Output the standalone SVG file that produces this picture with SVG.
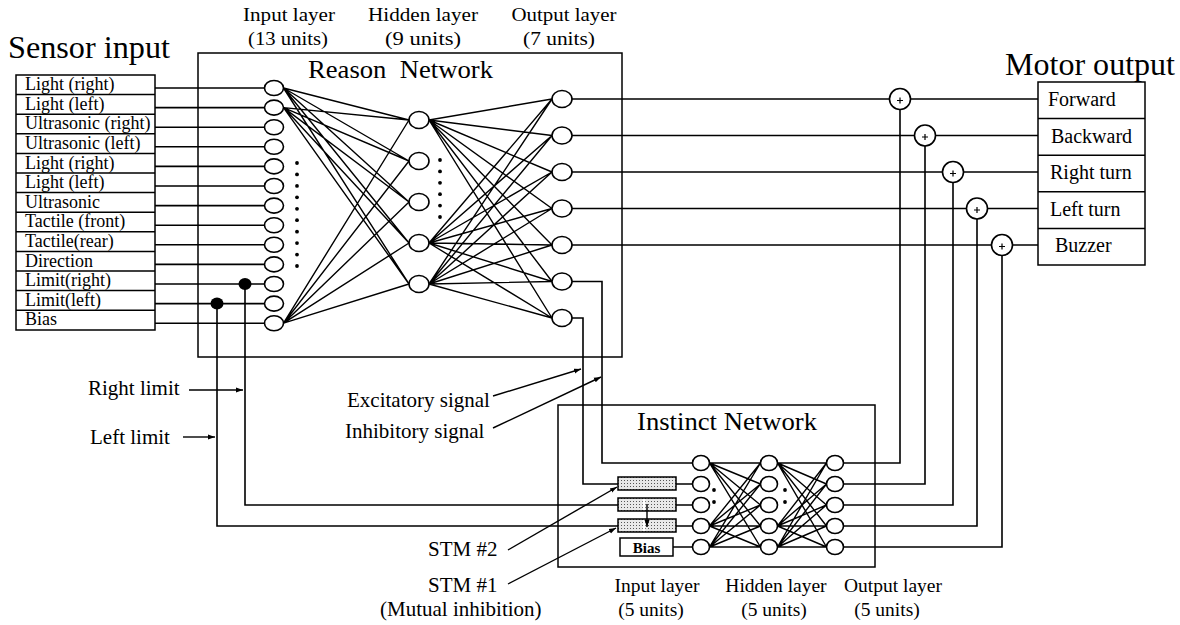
<svg xmlns="http://www.w3.org/2000/svg" width="1180" height="625" viewBox="0 0 1180 625">
<style>
text{font-family:"Liberation Serif","Times New Roman",serif;fill:#000}
.ln{stroke:#000;stroke-width:1.6;fill:none}
.th{stroke:#000;stroke-width:1.4;fill:none}
.nd{stroke:#000;stroke-width:1.6;fill:#fff}
.bx{stroke:#000;stroke-width:1.5;fill:none}
.dot{fill:#000}
.t18{font-size:18px}
.t20{font-size:20px}
.t21{font-size:21px}
.hd{font-size:19.5px}
.big{font-size:31px}
.net{font-size:26px}
.mid{text-anchor:middle}
.stm{fill:url(#stip);stroke:#000;stroke-width:1.5}
</style>
<defs>
<pattern id="stip" width="3" height="3" patternUnits="userSpaceOnUse">
<rect width="3" height="3" fill="#e8e8e8"/>
<rect width="1" height="1" fill="#555"/>
</pattern>
<marker id="ah" viewBox="0 0 10 10" refX="10" refY="5" markerWidth="7" markerHeight="7" orient="auto" markerUnits="userSpaceOnUse">
<path d="M0,1.5 L10,5 L0,8.5 z" fill="#000"/>
</marker>
</defs>

<!-- Titles -->
<g id="titles">
<text class="big" x="8" y="58" textLength="162" lengthAdjust="spacingAndGlyphs">Sensor input</text>
<text class="big" x="1005" y="75" textLength="170" lengthAdjust="spacingAndGlyphs">Motor output</text>
<text class="hd mid" x="289" y="21" textLength="92" lengthAdjust="spacingAndGlyphs">Input layer</text>
<text class="hd mid" x="288" y="45" textLength="80" lengthAdjust="spacingAndGlyphs">(13 units)</text>
<text class="hd mid" x="423" y="21" textLength="110" lengthAdjust="spacingAndGlyphs">Hidden layer</text>
<text class="hd mid" x="423" y="45" textLength="76" lengthAdjust="spacingAndGlyphs">(9 units)</text>
<text class="hd mid" x="564" y="21" textLength="105" lengthAdjust="spacingAndGlyphs">Output layer</text>
<text class="hd mid" x="559" y="45" textLength="72" lengthAdjust="spacingAndGlyphs">(7 units)</text>
</g>

<!-- Reason network box -->
<g id="reason-network">
<rect class="bx" x="198" y="53" width="424" height="304"/>
<text class="net" x="308" y="78" textLength="185" lengthAdjust="spacingAndGlyphs">Reason&#160; Network</text>
</g>

<!-- Instinct network box -->
<g id="instinct-network">
<rect class="bx" x="558" y="405" width="317" height="162"/>
<text class="net" x="637" y="430" textLength="180" lengthAdjust="spacingAndGlyphs">Instinct Network</text>
</g>

<!-- Sensor input list -->
<g id="sensor-input">
<rect class="bx" x="16" y="75" width="139" height="255" stroke-width="1.8"/>
<path class="bx" stroke-width="1.8" d="M16,94.6H155M16,114.2H155M16,133.8H155M16,153.4H155M16,173H155M16,192.6H155M16,212.2H155M16,231.8H155M16,251.4H155M16,271H155M16,290.6H155M16,310.2H155"/>
<text class="t18" x="25" y="90">Light (right)</text>
<text class="t18" x="25" y="109.7">Light (left)</text>
<text class="t18" x="25" y="129.3">Ultrasonic (right)</text>
<text class="t18" x="25" y="148.9">Ultrasonic (left)</text>
<text class="t18" x="25" y="168.5">Light (right)</text>
<text class="t18" x="25" y="188.1">Light (left)</text>
<text class="t18" x="25" y="207.7">Ultrasonic</text>
<text class="t18" x="25" y="227.3">Tactile (front)</text>
<text class="t18" x="25" y="246.9">Tactile(rear)</text>
<text class="t18" x="25" y="266.5">Direction</text>
<text class="t18" x="25" y="286.1">Limit(right)</text>
<text class="t18" x="25" y="305.7">Limit(left)</text>
<text class="t18" x="25" y="325.3">Bias</text>
</g>

<!-- Motor output list -->
<g id="motor-output">
<rect class="bx" x="1038" y="82" width="107" height="183"/>
<path class="bx" d="M1038,118.6H1145M1038,155.2H1145M1038,191.8H1145M1038,228.4H1145"/>
<text class="t20" x="1048" y="106">Forward</text>
<text class="t20" x="1051" y="143">Backward</text>
<text class="t20" x="1050" y="179">Right turn</text>
<text class="t20" x="1050" y="216">Left turn</text>
<text class="t20" x="1055" y="252">Buzzer</text>
</g>

<!-- Connectors -->
<g id="connectors">
<path class="ln" d="M155,88H264.5M155,107.6H264.5M155,127.2H264.5M155,146.8H264.5M155,166.4H264.5M155,186H264.5M155,205.6H264.5M155,225.2H264.5M155,244.8H264.5M155,264.4H264.5M155,284H264.5M155,303.6H264.5M155,323.2H264.5"/>
<path class="th" d="M283.5,88L409,120M283.5,88L409,161M283.5,88L409,202M283.5,88L409,243M283.5,88L409,284
M283.5,107.6L409,120M283.5,107.6L409,161M283.5,107.6L409,202M283.5,107.6L409,243M283.5,107.6L409,284
M283.5,323.2L409,120M283.5,323.2L409,161M283.5,323.2L409,202M283.5,323.2L409,243M283.5,323.2L409,284"/>
<path class="th" d="M429,120L552,99M429,120L552,135.5M429,120L552,172M429,120L552,208.5M429,120L552,245M429,120L552,281.5M429,120L552,318
M429,243L552,99M429,243L552,135.5M429,243L552,172M429,243L552,208.5M429,243L552,245M429,243L552,281.5M429,243L552,318
M429,284L552,99M429,284L552,135.5M429,284L552,172M429,284L552,208.5M429,284L552,245M429,284L552,281.5M429,284L552,318"/>
<path class="ln" d="M572,99H889.5M910.5,99H1038M572,135.5H914.5M935.5,135.5H1038M572,172H942.5M963.5,172H1038M572,208.5H966.5M987.5,208.5H1038M572,245H991.5M1012.5,245H1038"/>
<path class="ln" d="M572,281.5H602V463H692.5"/>
<path class="ln" d="M572,318H583V484H618"/>
<path class="ln" d="M245,284V505H618"/>
<path class="ln" d="M217,303.6V526H618"/>
<path class="ln" d="M676,484H692.5M676,505H692.5M676,526H692.5M673,547H692.5"/>
<path class="th" d="M709.5,463L760.5,463M709.5,463L760.5,484M709.5,463L760.5,505M709.5,463L760.5,526M709.5,463L760.5,547
M709.5,526L760.5,463M709.5,526L760.5,484M709.5,526L760.5,505M709.5,526L760.5,526M709.5,526L760.5,547
M709.5,547L760.5,463M709.5,547L760.5,484M709.5,547L760.5,505M709.5,547L760.5,526M709.5,547L760.5,547"/>
<path class="th" d="M777.5,463L826.5,463M777.5,463L826.5,484M777.5,463L826.5,505M777.5,463L826.5,526M777.5,463L826.5,547
M777.5,526L826.5,463M777.5,526L826.5,484M777.5,526L826.5,505M777.5,526L826.5,526M777.5,526L826.5,547
M777.5,547L826.5,463M777.5,547L826.5,484M777.5,547L826.5,505M777.5,547L826.5,526M777.5,547L826.5,547"/>
<path class="ln" d="M843.5,463H900V109.5M843.5,484H925V146M843.5,505H953V182.5M843.5,526H977V219M843.5,547H1002V255.5"/>
<path class="th" marker-end="url(#ah)" d="M189,390H243"/>
<path class="th" marker-end="url(#ah)" d="M183,437H215"/>
<path class="th" marker-end="url(#ah)" d="M493,396L581,369"/>
<path class="th" marker-end="url(#ah)" d="M493,428L601,377"/>
<path class="th" marker-end="url(#ah)" d="M508,550L617,487"/>
<path class="th" marker-end="url(#ah)" d="M508,584L616,528"/>
</g>

<!-- Reason input layer -->
<g id="reason-input-layer">
<ellipse class="nd" cx="274" cy="88" rx="9.5" ry="7.5"/>
<ellipse class="nd" cx="274" cy="107.6" rx="9.5" ry="7.5"/>
<ellipse class="nd" cx="274" cy="127.2" rx="9.5" ry="7.5"/>
<ellipse class="nd" cx="274" cy="146.8" rx="9.5" ry="7.5"/>
<ellipse class="nd" cx="274" cy="166.4" rx="9.5" ry="7.5"/>
<ellipse class="nd" cx="274" cy="186" rx="9.5" ry="7.5"/>
<ellipse class="nd" cx="274" cy="205.6" rx="9.5" ry="7.5"/>
<ellipse class="nd" cx="274" cy="225.2" rx="9.5" ry="7.5"/>
<ellipse class="nd" cx="274" cy="244.8" rx="9.5" ry="7.5"/>
<ellipse class="nd" cx="274" cy="264.4" rx="9.5" ry="7.5"/>
<ellipse class="nd" cx="274" cy="284" rx="9.5" ry="7.5"/>
<ellipse class="nd" cx="274" cy="303.6" rx="9.5" ry="7.5"/>
<ellipse class="nd" cx="274" cy="323.2" rx="9.5" ry="7.5"/>
<circle class="dot" cx="297" cy="163" r="1.9"/>
<circle class="dot" cx="297" cy="174.4" r="1.9"/>
<circle class="dot" cx="297" cy="185.9" r="1.9"/>
<circle class="dot" cx="297" cy="197.3" r="1.9"/>
<circle class="dot" cx="297" cy="208.8" r="1.9"/>
<circle class="dot" cx="297" cy="220.2" r="1.9"/>
<circle class="dot" cx="297" cy="231.7" r="1.9"/>
<circle class="dot" cx="297" cy="243.1" r="1.9"/>
<circle class="dot" cx="297" cy="254.6" r="1.9"/>
<circle class="dot" cx="297" cy="266" r="1.9"/>
<ellipse class="dot" cx="245" cy="284" rx="6.5" ry="6"/>
<ellipse class="dot" cx="217" cy="303.6" rx="6.5" ry="6"/>
</g>

<!-- Reason hidden layer -->
<g id="reason-hidden-layer">
<ellipse class="nd" cx="419" cy="120" rx="10" ry="8.5"/>
<ellipse class="nd" cx="419" cy="161" rx="10" ry="8.5"/>
<ellipse class="nd" cx="419" cy="202" rx="10" ry="8.5"/>
<ellipse class="nd" cx="419" cy="243" rx="10" ry="8.5"/>
<ellipse class="nd" cx="419" cy="284" rx="10" ry="8.5"/>
<circle class="dot" cx="440" cy="160" r="1.9"/>
<circle class="dot" cx="440" cy="171.4" r="1.9"/>
<circle class="dot" cx="440" cy="182.8" r="1.9"/>
<circle class="dot" cx="440" cy="194.2" r="1.9"/>
<circle class="dot" cx="440" cy="205.6" r="1.9"/>
<circle class="dot" cx="440" cy="217" r="1.9"/>
</g>

<!-- Reason output layer -->
<g id="reason-output-layer">
<ellipse class="nd" cx="562" cy="99" rx="10" ry="8.5"/>
<ellipse class="nd" cx="562" cy="135.5" rx="10" ry="8.5"/>
<ellipse class="nd" cx="562" cy="172" rx="10" ry="8.5"/>
<ellipse class="nd" cx="562" cy="208.5" rx="10" ry="8.5"/>
<ellipse class="nd" cx="562" cy="245" rx="10" ry="8.5"/>
<ellipse class="nd" cx="562" cy="281.5" rx="10" ry="8.5"/>
<ellipse class="nd" cx="562" cy="318" rx="10" ry="8.5"/>
</g>

<!-- Summing junctions -->
<g id="summing-junctions">
<circle class="nd" cx="900" cy="99" r="10.5"/>
<circle class="nd" cx="925" cy="135.5" r="10.5"/>
<circle class="nd" cx="953" cy="172" r="10.5"/>
<circle class="nd" cx="977" cy="208.5" r="10.5"/>
<circle class="nd" cx="1002" cy="245" r="10.5"/>
<path stroke="#000" stroke-width="1.2" d="M897,100.5h6M900,97.5v6M922,137h6M925,134v6M950,173.5h6M953,170.5v6M974,210h6M977,207v6M999,246.5h6M1002,243.5v6"/>
</g>

<!-- STM and bias boxes -->
<g id="stm-boxes">
<rect class="stm" x="618" y="477" width="58" height="13"/>
<rect class="stm" x="618" y="498" width="58" height="13"/>
<rect class="stm" x="618" y="519" width="58" height="13"/>
<path stroke="#fff" stroke-width="2.5" d="M644,499V510M644,520V531"/>
<path class="th" marker-end="url(#ah)" d="M647,504V527"/>
<rect class="bx" x="620" y="538" width="53" height="18" stroke-width="1.8"/>
<text x="646.5" y="553" class="mid" font-size="15" font-weight="bold">Bias</text>
</g>

<!-- Instinct input layer -->
<g id="instinct-input-layer">
<ellipse class="nd" cx="701" cy="463" rx="8.5" ry="7.5"/>
<ellipse class="nd" cx="701" cy="484" rx="8.5" ry="7.5"/>
<ellipse class="nd" cx="701" cy="505" rx="8.5" ry="7.5"/>
<ellipse class="nd" cx="701" cy="526" rx="8.5" ry="7.5"/>
<ellipse class="nd" cx="701" cy="547" rx="8.5" ry="7.5"/>
<circle class="dot" cx="714" cy="490" r="1.9"/>
<circle class="dot" cx="714" cy="502" r="1.9"/>
</g>

<!-- Instinct hidden layer -->
<g id="instinct-hidden-layer">
<ellipse class="nd" cx="769" cy="463" rx="8.5" ry="7.5"/>
<ellipse class="nd" cx="769" cy="484" rx="8.5" ry="7.5"/>
<ellipse class="nd" cx="769" cy="505" rx="8.5" ry="7.5"/>
<ellipse class="nd" cx="769" cy="526" rx="8.5" ry="7.5"/>
<ellipse class="nd" cx="769" cy="547" rx="8.5" ry="7.5"/>
<circle class="dot" cx="785" cy="490" r="1.9"/>
<circle class="dot" cx="785" cy="502" r="1.9"/>
</g>

<!-- Instinct output layer -->
<g id="instinct-output-layer">
<ellipse class="nd" cx="835" cy="463" rx="8.5" ry="7.5"/>
<ellipse class="nd" cx="835" cy="484" rx="8.5" ry="7.5"/>
<ellipse class="nd" cx="835" cy="505" rx="8.5" ry="7.5"/>
<ellipse class="nd" cx="835" cy="526" rx="8.5" ry="7.5"/>
<ellipse class="nd" cx="835" cy="547" rx="8.5" ry="7.5"/>
</g>

<!-- Labels -->
<g id="labels">
<text class="t21" x="88" y="395">Right limit</text>
<text class="t21" x="90" y="444">Left limit</text>
<text class="t21" x="347" y="407">Excitatory signal</text>
<text class="t21" x="345" y="438">Inhibitory signal</text>
<text class="t21" x="428" y="556">STM #2</text>
<text class="t21" x="428" y="592">STM #1</text>
<text class="t21" x="380" y="616">(Mutual inhibition)</text>
<text class="hd mid" x="657" y="592">Input layer</text>
<text class="hd mid" x="651" y="616">(5 units)</text>
<text class="hd mid" x="776" y="592">Hidden layer</text>
<text class="hd mid" x="774" y="616">(5 units)</text>
<text class="hd mid" x="893" y="592">Output layer</text>
<text class="hd mid" x="887" y="616">(5 units)</text>
</g>
</svg>
